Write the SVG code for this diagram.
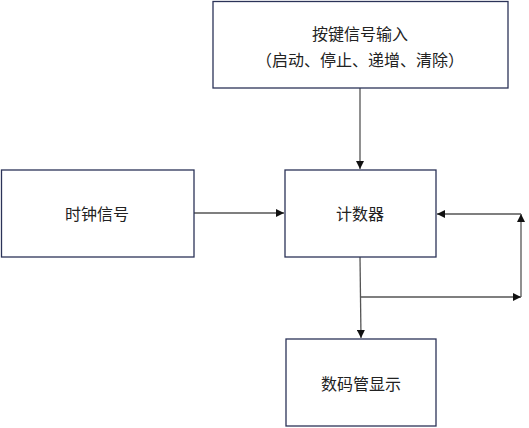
<svg xmlns="http://www.w3.org/2000/svg" width="529" height="428" viewBox="0 0 529 428">
<style>
.box{fill:#fff;stroke:#2b3358;stroke-width:1.3}
.t{font-family:"Noto Sans CJK SC","Noto Sans",sans-serif;font-size:16px;fill:#222;text-anchor:middle;dominant-baseline:central}
.c{fill:none;stroke:#555;stroke-width:1.3}
</style>
<defs>
<marker id="ah" viewBox="0 0 10 10" refX="10" refY="5" markerWidth="8" markerHeight="8" markerUnits="userSpaceOnUse" orient="auto">
<path d="M0,0 L10,5 L0,10 z" fill="#111"/>
</marker>
</defs>
<rect width="529" height="428" fill="#fff"/>
<g id="connectors">
<line class="c" x1="360" y1="88" x2="360" y2="169" marker-end="url(#ah)"/>
<line class="c" x1="194" y1="213" x2="284" y2="213" marker-end="url(#ah)"/>
<line class="c" x1="360" y1="257" x2="361" y2="338" marker-end="url(#ah)"/>
<line class="c" x1="360" y1="297" x2="521" y2="297" marker-end="url(#ah)"/>
<line class="c" x1="521" y1="297" x2="521" y2="214" marker-end="url(#ah)"/>
<line class="c" x1="521" y1="214" x2="437" y2="214" marker-end="url(#ah)"/>
</g>
<g id="input">
<rect class="box" x="213" y="1.5" width="295" height="86.5"/>
<text class="t" x="360" y="33">按键信号输入</text>
<text class="t" x="360" y="59">（启动、停止、递增、清除）</text>
</g>
<g id="clock">
<rect class="box" x="1.5" y="170" width="192.5" height="87"/>
<text class="t" x="97" y="213">时钟信号</text>
</g>
<g id="counter">
<rect class="box" x="285" y="170" width="151" height="87"/>
<text class="t" x="360" y="213">计数器</text>
</g>
<g id="display">
<rect class="box" x="286" y="339" width="150" height="87"/>
<text class="t" x="361" y="383">数码管显示</text>
</g>
</svg>
